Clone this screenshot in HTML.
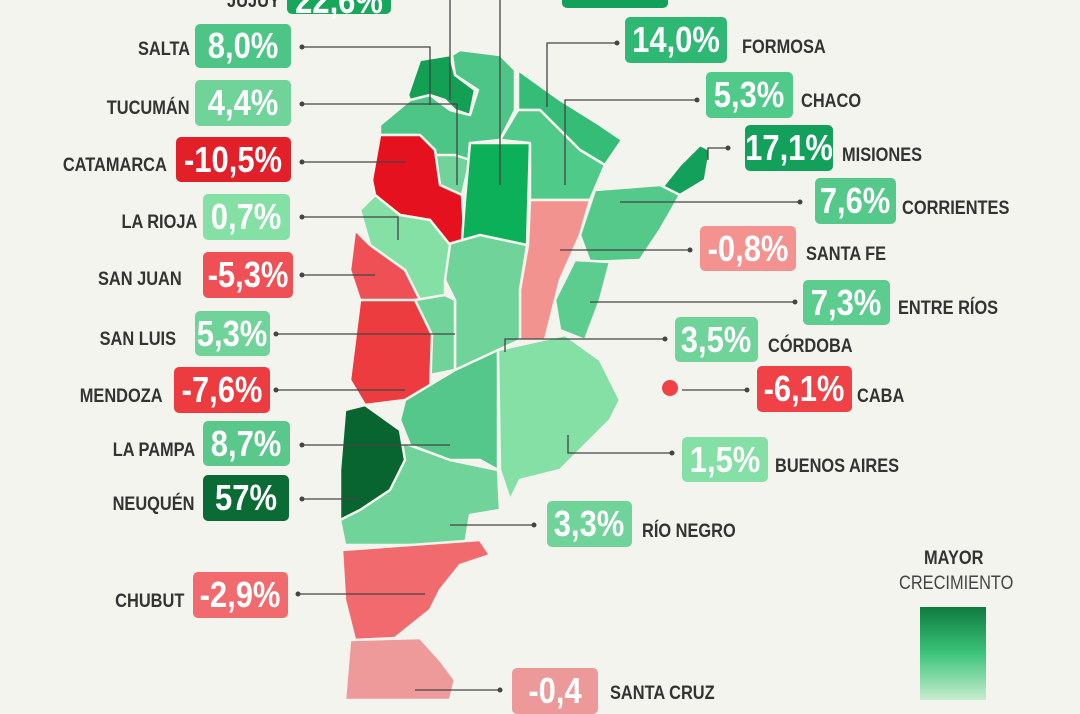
<!DOCTYPE html>
<html><head><meta charset="utf-8"><style>
body{margin:0;width:1080px;height:700px;background:#f4f4ee;overflow:hidden;position:relative;font-family:"Liberation Sans Narrow","Liberation Sans",sans-serif;}
.b{position:absolute;border-radius:5px;color:#fff;font-weight:bold;font-size:36px;display:flex;align-items:center;justify-content:center;}
.b span{display:inline-block;transform:scaleX(.86);}
.l{position:absolute;color:#333;font-weight:bold;font-size:19.5px;white-space:nowrap;}
.l span{display:inline-block;transform:scaleX(.84);transform-origin:left center}
.lr{text-align:right;width:180px}
.lr span{transform-origin:right center}
svg{position:absolute;left:0;top:0}
</style></head><body>
<svg width="1080" height="700">
<g stroke="#f4f4ee" stroke-width="2.5" stroke-linejoin="round">
<polygon fill="#4cc586" points="380,125 410,100 430,95 450,110 470,115 478,90 455,75 452,55 460,50 500,55 515,70 515,110 500,140 470,143 465,195 440,185 435,150 420,135 380,135"/>
<polygon fill="#13a055" points="408,95 420,60 450,55 455,75 475,90 470,115 455,110 445,100 430,95 410,100"/>
<polygon fill="#6fd39a" points="435,155 455,155 470,160 462,195 440,185"/>
<polygon fill="#e5111e" points="380,135 420,135 435,150 440,185 462,195 465,245 450,245 430,220 400,215 375,195 372,180"/>
<polygon fill="#0cb059" points="470,143 530,143 527,245 462,240 465,200"/>
<polygon fill="#35bd78" points="518,70 560,100 600,125 622,140 605,165 580,150 540,110 518,110"/>
<polygon fill="#4fca88" points="518,110 540,110 580,150 605,165 590,200 530,200 530,143 500,140"/>
<polygon fill="#13a05a" points="660,190 680,165 700,145 710,150 705,180 680,195 670,205"/>
<polygon fill="#54c98a" points="595,190 660,185 680,195 660,230 640,260 590,262 580,235"/>
<polygon fill="#f3938f" points="530,200 590,200 580,235 560,280 550,320 545,340 520,340 520,290 528,245"/>
<polygon fill="#5dcc8f" points="575,260 610,262 600,300 585,340 560,330 555,300"/>
<polygon fill="#6fd39a" points="445,245 480,235 527,245 520,290 520,340 498,350 470,370 455,370 455,300 445,280"/>
<polygon fill="#85e0a6" points="360,210 375,195 400,215 430,220 450,245 445,280 445,295 420,300 405,270 370,245"/>
<polygon fill="#ef5055" points="355,230 370,245 405,270 420,300 395,305 360,300 350,270"/>
<polygon fill="#6fd39a" points="415,300 445,295 455,300 455,370 430,375 432,335"/>
<polygon fill="#ec3c40" points="360,300 415,300 432,335 430,395 405,400 365,405 350,380 355,340"/>
<polygon fill="#55c78a" points="405,400 455,370 498,350 498,470 480,460 450,460 410,445 400,420"/>
<polygon fill="#85e0a6" points="498,350 565,335 600,360 620,400 610,420 580,450 560,470 520,480 510,500 500,470"/>
<polygon fill="#6fd39a" points="395,440 450,460 498,470 500,510 470,515 465,545 345,545 340,520 380,495 405,460"/>
<polygon fill="#08652f" points="345,410 365,405 400,430 405,460 390,490 360,510 340,520 340,470"/>
<polygon fill="#f06a6e" points="342,550 480,540 490,555 460,565 440,590 430,610 395,638 355,640 345,600"/>
<polygon fill="#ee9a9a" points="350,640 420,638 440,660 455,680 450,700 345,700"/>
</g>
<circle cx="670" cy="388" r="8" fill="#ef4146"/>
<g stroke="#444" stroke-width="1.3" fill="none">
<polyline points="302,47 430,47 430,105"/><polyline points="302,104 457,104 457,185"/>
<polyline points="302,162 405,162"/><polyline points="302,217 398,217 398,240"/>
<polyline points="302,275 375,275"/><polyline points="276,334 455,334"/>
<polyline points="276,390 405,390"/><polyline points="302,445 450,445"/>
<polyline points="302,499 360,499"/><polyline points="298,594 425,594"/>
<polyline points="617,43 547,43 547,107"/><polyline points="697,100 565,100 565,185"/>
<polyline points="728,148 708,148 708,160"/><polyline points="800,202 620,202"/>
<polyline points="690,250 560,250"/><polyline points="795,302 590,302"/>
<polyline points="665,339 505,339 505,352"/><polyline points="747,390 682,390"/>
<polyline points="672,453 568,453 568,435"/><polyline points="534,525 450,525"/>
<polyline points="500,690 415,690"/><polyline points="450,0 450,100"/><polyline points="500,0 500,185"/>
</g>
<g fill="#444">
<circle cx="302" cy="47" r="2.5"/><circle cx="302" cy="104" r="2.5"/><circle cx="302" cy="162" r="2.5"/><circle cx="302" cy="217" r="2.5"/><circle cx="302" cy="275" r="2.5"/><circle cx="276" cy="334" r="2.5"/><circle cx="276" cy="390" r="2.5"/><circle cx="302" cy="445" r="2.5"/><circle cx="302" cy="499" r="2.5"/><circle cx="298" cy="594" r="2.5"/><circle cx="617" cy="43" r="2.5"/><circle cx="697" cy="100" r="2.5"/><circle cx="728" cy="148" r="2.5"/><circle cx="800" cy="202" r="2.5"/><circle cx="690" cy="250" r="2.5"/><circle cx="795" cy="302" r="2.5"/><circle cx="665" cy="339" r="2.5"/><circle cx="747" cy="390" r="2.5"/><circle cx="672" cy="453" r="2.5"/><circle cx="534" cy="525" r="2.5"/><circle cx="500" cy="690" r="2.5"/>
</g>
<defs><linearGradient id="g" x1="0" y1="0" x2="0" y2="1"><stop offset="0" stop-color="#0e7a3e"/><stop offset="0.5" stop-color="#3cc57a"/><stop offset="1" stop-color="#c8eccf"/></linearGradient></defs>
<rect x="920" y="607" width="66" height="93" fill="url(#g)"/>
</svg>
<div class="b" style="left:287px;top:-12px;width:104px;height:26px;background:#17a75a"><span>22,6%</span></div>
<div class="l lr" style="left:100px;top:-10px"><span>JUJUY</span></div>
<div class="b" style="left:562px;top:-12px;width:106px;height:20px;background:#13a05a"></div>
<div class="b" style="left:195px;top:24px;width:96px;height:44px;background:#4cc586"><span>8,0%</span></div><div class="l lr" style="left:10px;top:38px"><span>SALTA</span></div>
<div class="b" style="left:195px;top:80px;width:96px;height:46px;background:#6fd39a"><span>4,4%</span></div><div class="l lr" style="left:10px;top:97px"><span>TUCUMÁN</span></div>
<div class="b" style="left:176px;top:137px;width:115px;height:45px;background:#e2202a"><span>-10,5%</span></div><div class="l lr" style="left:-13px;top:154px"><span>CATAMARCA</span></div>
<div class="b" style="left:203px;top:194px;width:87px;height:46px;background:#85e0a6"><span>0,7%</span></div><div class="l lr" style="left:17px;top:211px"><span>LA RIOJA</span></div>
<div class="b" style="left:203px;top:252px;width:90px;height:46px;background:#ef5055"><span>-5,3%</span></div><div class="l lr" style="left:2px;top:268px"><span>SAN JUAN</span></div>
<div class="b" style="left:195px;top:311px;width:75px;height:45px;background:#6fd39a"><span>5,3%</span></div><div class="l lr" style="left:-4px;top:328px"><span>SAN LUIS</span></div>
<div class="b" style="left:174px;top:367px;width:96px;height:46px;background:#ec3c40"><span>-7,6%</span></div><div class="l lr" style="left:-17px;top:385px"><span>MENDOZA</span></div>
<div class="b" style="left:203px;top:421px;width:87px;height:45px;background:#59c88a"><span>8,7%</span></div><div class="l lr" style="left:15px;top:439px"><span>LA PAMPA</span></div>
<div class="b" style="left:203px;top:475px;width:86px;height:46px;background:#0a6b34"><span>57%</span></div><div class="l lr" style="left:15px;top:493px"><span>NEUQUÉN</span></div>
<div class="b" style="left:193px;top:572px;width:95px;height:46px;background:#f06a6e"><span>-2,9%</span></div><div class="l lr" style="left:4px;top:590px"><span>CHUBUT</span></div>
<div class="b" style="left:625px;top:17px;width:102px;height:46px;background:#2fb873"><span>14,0%</span></div><div class="l" style="left:742px;top:36px"><span>FORMOSA</span></div>
<div class="b" style="left:706px;top:72px;width:87px;height:46px;background:#4fca88"><span>5,3%</span></div><div class="l" style="left:801px;top:90px"><span>CHACO</span></div>
<div class="b" style="left:745px;top:125px;width:88px;height:46px;background:#13a05a"><span>17,1%</span></div><div class="l" style="left:842px;top:144px"><span>MISIONES</span></div>
<div class="b" style="left:815px;top:178px;width:81px;height:46px;background:#54c98a"><span>7,6%</span></div><div class="l" style="left:902px;top:197px"><span>CORRIENTES</span></div>
<div class="b" style="left:700px;top:226px;width:96px;height:45px;background:#f3928f"><span>-0,8%</span></div><div class="l" style="left:806px;top:243px"><span>SANTA FE</span></div>
<div class="b" style="left:803px;top:280px;width:87px;height:45px;background:#5dcc8f"><span>7,3%</span></div><div class="l" style="left:898px;top:297px"><span>ENTRE RÍOS</span></div>
<div class="b" style="left:675px;top:317px;width:83px;height:45px;background:#6fd39a"><span>3,5%</span></div><div class="l" style="left:768px;top:335px"><span>CÓRDOBA</span></div>
<div class="b" style="left:757px;top:366px;width:95px;height:46px;background:#ef4146"><span>-6,1%</span></div><div class="l" style="left:857px;top:385px"><span>CABA</span></div>
<div class="b" style="left:682px;top:437px;width:86px;height:45px;background:#85e0a6"><span>1,5%</span></div><div class="l" style="left:775px;top:455px"><span>BUENOS AIRES</span></div>
<div class="b" style="left:547px;top:501px;width:85px;height:46px;background:#6fd39a"><span>3,3%</span></div><div class="l" style="left:642px;top:520px"><span>RÍO NEGRO</span></div>
<div class="b" style="left:512px;top:668px;width:86px;height:46px;background:#ee9999"><span>-0,4</span></div><div class="l" style="left:610px;top:682px"><span>SANTA CRUZ</span></div>
<div class="l" style="left:924px;top:547px;font-size:19.5px"><span>MAYOR</span></div>
<div class="l" style="left:899px;top:572px;font-size:19.5px;font-weight:normal;color:#444"><span>CRECIMIENTO</span></div>
</body></html>
